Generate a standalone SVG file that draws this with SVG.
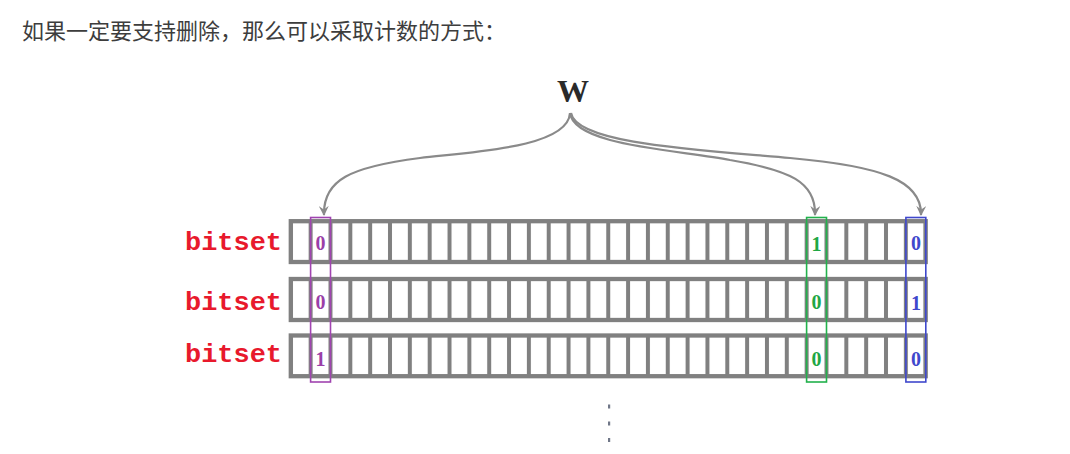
<svg xmlns="http://www.w3.org/2000/svg" width="1070" height="454" viewBox="0 0 1070 454">
<defs>
<style>
.cap{font-family:"Noto Sans CJK SC","Noto Sans",sans-serif;font-size:22px;fill:#3d3d3d}
.lbl{font-family:"Liberation Mono","DejaVu Sans Mono",monospace;font-size:25px;font-weight:bold;fill:#e8192c}
.row{fill:none;stroke:#808080;stroke-width:4.3}
.dig{font-family:"Liberation Serif","DejaVu Serif",serif;font-size:20px;font-weight:bold;text-anchor:middle}
.conn{fill:none;stroke:#8a8a8a;stroke-width:2.2}
</style>
<marker id="ah" viewBox="0 0 10 10" refX="9" refY="5" markerWidth="10" markerHeight="10" markerUnits="userSpaceOnUse" orient="auto">
<path d="M0,0 L10,5 L0,10 L3.5,5 Z" fill="#8a8a8a"/>
</marker>
<pattern id="cells" x="290.8" y="0" width="19.84" height="454" patternUnits="userSpaceOnUse">
<rect x="-2" y="0" width="4" height="454" fill="#808080"/>
<rect x="17.84" y="0" width="4" height="454" fill="#808080"/>
</pattern>
</defs>
<rect width="1070" height="454" fill="#ffffff"/>
<text class="cap" x="22" y="39">如果一定要支持删除，那么可以采取计数的方式：</text>

<g id="w-node">
<text x="573" y="102" text-anchor="middle" font-family="Liberation Serif, serif" font-weight="bold" font-size="32" fill="#2a2a2a">W</text>
</g>

<g id="connectors">
<path class="conn" d="M570,113 C568,148 470,152 420,158 C350,167 323,180 324,215" marker-end="url(#ah)"/>
<path class="conn" d="M570,113 C574,146 680,150 730,160 C790,170 816,182 815,215" marker-end="url(#ah)"/>
<path class="conn" d="M571,113 C576,144 700,150 790,158 C880,166 922,180 921,215" marker-end="url(#ah)"/>
</g>

<g id="bitset-1">
<text class="lbl" x="185" y="250" textLength="97" lengthAdjust="spacingAndGlyphs">bitset</text>
<rect x="290.8" y="221" width="634.9" height="41" fill="url(#cells)"/>
<rect class="row" x="290.8" y="221.2" width="634.9" height="40.8"/>
</g>
<g id="bitset-2">
<text class="lbl" x="185" y="310" textLength="97" lengthAdjust="spacingAndGlyphs">bitset</text>
<rect x="290.8" y="279" width="634.9" height="41" fill="url(#cells)"/>
<rect class="row" x="290.8" y="279" width="634.9" height="41"/>
</g>
<g id="bitset-3">
<text class="lbl" x="185" y="362" textLength="97" lengthAdjust="spacingAndGlyphs">bitset</text>
<rect x="290.8" y="335.5" width="634.9" height="40.7" fill="url(#cells)"/>
<rect class="row" x="290.8" y="335.5" width="634.9" height="40.7"/>
</g>

<g id="col-purple">
<rect x="310.6" y="217.5" width="19.9" height="164.5" fill="none" stroke="#a044b0" stroke-width="1.6"/>
<text class="dig" x="320.6" y="250" fill="#9a3fa8">0</text>
<text class="dig" x="320.6" y="309" fill="#9a3fa8">0</text>
<text class="dig" x="320.6" y="366" fill="#9a3fa8">1</text>
</g>
<g id="col-green">
<rect x="806.6" y="217.5" width="19.9" height="164.5" fill="none" stroke="#22b14c" stroke-width="1.6"/>
<text class="dig" x="816.6" y="251" fill="#1fa745">1</text>
<text class="dig" x="816.6" y="309" fill="#1fa745">0</text>
<text class="dig" x="816.6" y="366" fill="#1fa745">0</text>
</g>
<g id="col-blue">
<rect x="905.9" y="217.5" width="19.9" height="164.5" fill="none" stroke="#3f48cc" stroke-width="1.6"/>
<text class="dig" x="915.9" y="250" fill="#3f48cc">0</text>
<text class="dig" x="915.9" y="310" fill="#3f48cc">1</text>
<text class="dig" x="915.9" y="366" fill="#3f48cc">0</text>
</g>

<g id="ellipsis" fill="#707788">
<rect x="608" y="404.5" width="2.2" height="4"/>
<rect x="608" y="421.5" width="2.2" height="4"/>
<rect x="608" y="438" width="2.2" height="4"/>
</g>
</svg>
